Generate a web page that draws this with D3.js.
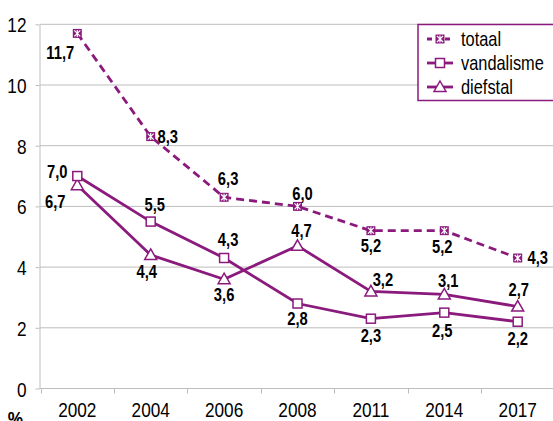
<!DOCTYPE html>
<html>
<head>
<meta charset="utf-8">
<script src="https://cdn.jsdelivr.net/npm/d3@7"></script>
<style>
  body { margin: 0; background: #fff; }
  svg { display: block; font-family: "Liberation Sans", Arial, sans-serif; }
</style>
</head>
<body>
<div id="chart"></div>
<script>
// data
const years = ["2002", "2004", "2006", "2008", "2011", "2014", "2017"];
const totaal = [11.7, 8.3, 6.3, 6.0, 5.2, 5.2, 4.3];
const vandalisme = [7.0, 5.5, 4.3, 2.8, 2.3, 2.5, 2.2];
const diefstal = [6.7, 4.4, 3.6, 4.7, 3.2, 3.1, 2.7];
const yTicks = [0, 2, 4, 6, 8, 10, 12];

// where each value label sits relative to its point (dx, dy of label centre)
const totaalLabelPos = [[-17, 19], [17, 0], [4, -19], [5, -13], [0, 15], [-2, 16], [20, 0]];
const vandLabelPos = [[-20, -5], [4, -17], [4, -18], [0, 15], [0, 17], [-2, 18], [0, 17]];
const diefLabelPos = [[-22, 16], [-4, 17], [0, 15], [4, -15], [12, -12], [4, -14], [1, -17]];

const purple = "#8b1a7d";
const gridColor = "#bdbdbd";
const narrowK = 0.82; // no Arial Narrow here, squeeze Liberation Sans instead

const width = 553, height = 421;
const svg = d3.select("#chart").append("svg")
    .attr("width", width)
    .attr("height", height);

// squeeze a text horizontally around its own x
function narrow(sel) {
    sel.attr("transform", function() {
        const tx = +d3.select(this).attr("x") || 0;
        return `translate(${tx * (1 - narrowK)},0) scale(${narrowK},1)`;
    });
}

const x = d3.scaleBand()
    .domain(years)
    .range([40.6, 554.4]);

const y = d3.scaleLinear()
    .domain([0, 12])
    .range([388.5, 24.3]);

const cx = d => x(d) + x.bandwidth() / 2;

// gridlines
svg.append("g")
    .selectAll("line")
    .data(yTicks.filter(t => t > 0))
    .enter().append("line")
    .attr("x1", 40)
    .attr("x2", width)
    .attr("y1", d => y(d))
    .attr("y2", d => y(d))
    .style("stroke", gridColor)
    .style("stroke-width", 1);

// y axis
const yAxis = svg.append("g")
    .attr("transform", "translate(39.5,0)")
    .call(d3.axisLeft(y).tickValues(yTicks).tickSize(4).tickPadding(9).tickSizeOuter(0));
yAxis.select(".domain").style("stroke", gridColor);
yAxis.selectAll(".tick line").style("stroke", gridColor);
yAxis.selectAll("text")
    .style("font-size", "21px")
    .style("fill", "#000")
    .attr("dy", "0.36em")
    .call(narrow);

// x axis
const xAxis = svg.append("g")
    .attr("transform", "translate(0,388.5)")
    .call(d3.axisBottom(x).tickSize(0).tickPadding(14).tickSizeOuter(0));
xAxis.select(".domain").remove();
xAxis.selectAll("text")
    .style("font-size", "21px")
    .style("fill", "#000")
    .call(narrow);

svg.append("line")
    .attr("x1", 39.5).attr("x2", width)
    .attr("y1", 388.5).attr("y2", 388.5)
    .style("stroke", gridColor);

svg.append("g")
    .selectAll("line")
    .data(years)
    .enter().append("line")
    .attr("x1", d => Math.round(x(d)) + 0.5)
    .attr("x2", d => Math.round(x(d)) + 0.5)
    .attr("y1", 388.5)
    .attr("y2", 393.5)
    .style("stroke", gridColor);

svg.append("text")
    .attr("x", 15.5)
    .attr("y", 426)
    .attr("text-anchor", "middle")
    .style("font-size", "21px")
    .style("font-weight", "bold")
    .text("%")
    .call(narrow);

const line = d3.line()
    .x((d, i) => cx(years[i]))
    .y(d => y(d));

// markers
function starMarker(g, px, py) {
    g.append("rect")
        .attr("x", px - 4.5).attr("y", py - 4.5)
        .attr("width", 9).attr("height", 9)
        .style("fill", purple);
    g.append("path")
        .attr("d", `M${px - 3},${py - 3}L${px + 3},${py + 3}M${px + 3},${py - 3}L${px - 3},${py + 3}M${px},${py - 3.5}L${px},${py + 3.5}`)
        .style("stroke", "#fff")
        .style("stroke-width", 1.2);
}
function squareMarker(g, px, py) {
    g.append("rect")
        .attr("x", px - 4.5).attr("y", py - 4.5)
        .attr("width", 9).attr("height", 9)
        .style("fill", "#fff")
        .style("stroke", purple)
        .style("stroke-width", 1.5);
}
function triangleMarker(g, px, py) {
    g.append("path")
        .attr("d", `M${px},${py - 6}L${px + 6},${py + 4.5}L${px - 6},${py + 4.5}Z`)
        .style("fill", "#fff")
        .style("stroke", purple)
        .style("stroke-width", 1.5);
}

const series = [
    {name: "diefstal", values: diefstal, dash: null, marker: triangleMarker, labels: diefLabelPos},
    {name: "vandalisme", values: vandalisme, dash: null, marker: squareMarker, labels: vandLabelPos},
    {name: "totaal", values: totaal, dash: "8,5", marker: starMarker, labels: totaalLabelPos}
];

series.forEach(s => {
    const g = svg.append("g");
    g.append("path")
        .datum(s.values)
        .attr("d", line)
        .style("fill", "none")
        .style("stroke", purple)
        .style("stroke-width", 2.8)
        .style("stroke-dasharray", s.dash);
    s.values.forEach((v, i) => s.marker(g, cx(years[i]), y(v)));
});

// value labels on top
series.forEach(s => {
    svg.append("g")
        .selectAll("text")
        .data(s.values)
        .enter().append("text")
        .attr("x", (d, i) => cx(years[i]) + s.labels[i][0])
        .attr("y", (d, i) => y(d) + s.labels[i][1] + 6.5)
        .attr("text-anchor", "middle")
        .style("font-size", "18px")
        .style("font-weight", "bold")
        .style("fill", "#000")
        .text(d => d.toFixed(1).replace(".", ","))
        .call(narrow);
});

// legend
const legend = svg.append("g");
legend.append("rect")
    .attr("x", 418).attr("y", 24.5)
    .attr("width", 140).attr("height", 76)
    .style("fill", "#fff")
    .style("stroke", purple)
    .style("stroke-width", 1.5);

const legendItems = [series[2], series[1], series[0]];
legendItems.forEach((s, i) => {
    const ly = 39 + i * 24;
    legend.append("line")
        .attr("x1", 427).attr("x2", 453)
        .attr("y1", ly).attr("y2", ly)
        .style("stroke", purple)
        .style("stroke-width", 2.8)
        .style("stroke-dasharray", s.dash ? "5,4" : null);
    s.marker(legend, 440, ly);
    legend.append("text")
        .attr("x", 461)
        .attr("y", ly + 7)
        .style("font-size", "20px")
        .style("fill", "#000")
        .text(s.name)
        .call(narrow);
});
</script>
</body>
</html>
